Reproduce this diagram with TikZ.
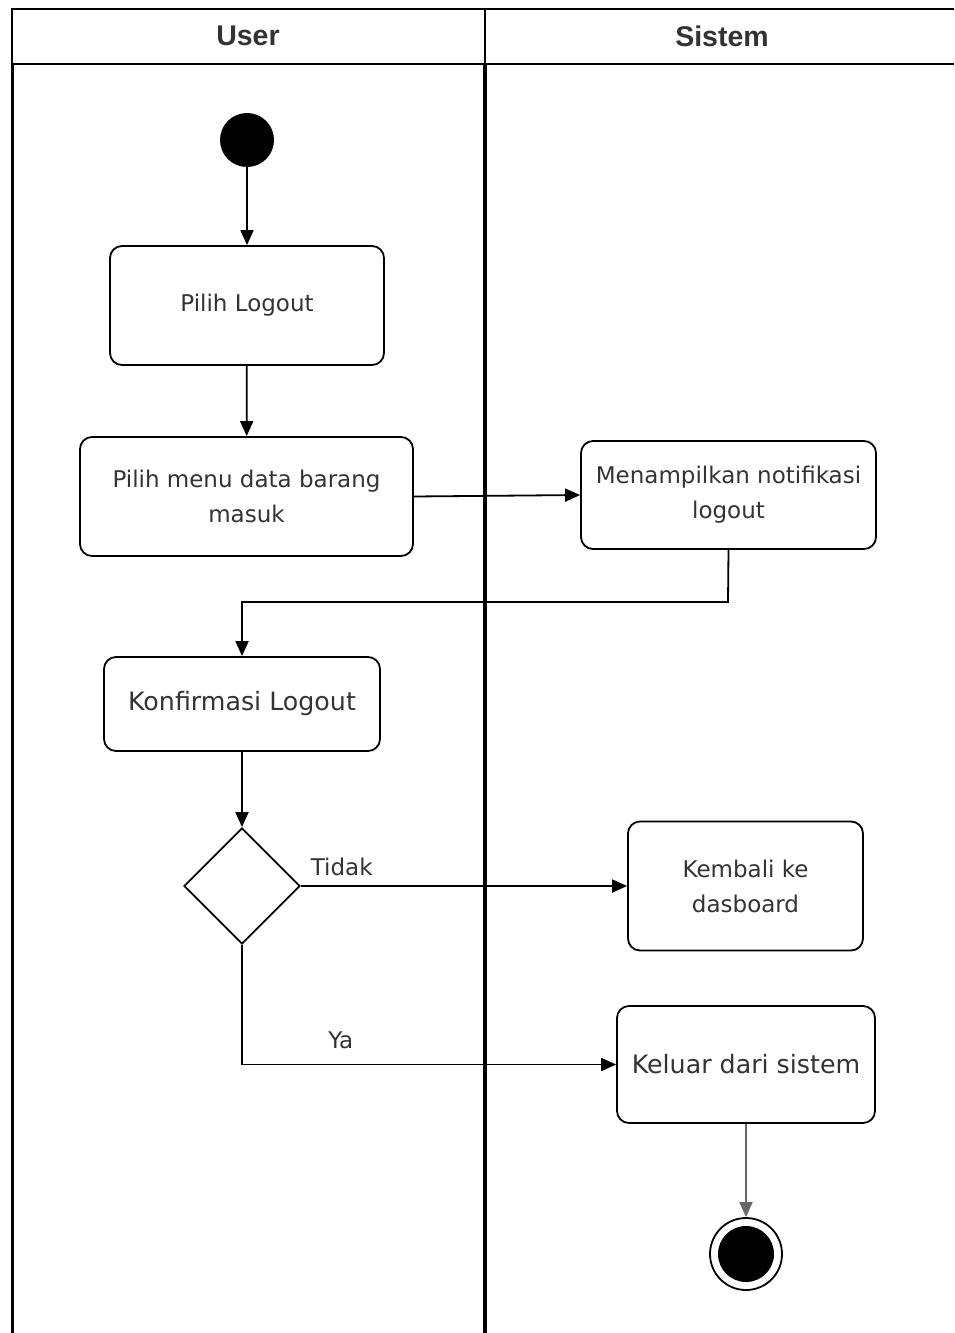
\documentclass[tikz,border=0pt]{standalone}
\usepackage{fontspec}
\setmainfont{DejaVu Sans}
\newfontfamily\headfont{Liberation Sans}
\usetikzlibrary{arrows.meta,shapes.geometric}
\begin{document}
\begin{tikzpicture}[x=1pt,y=-1pt,
  every node/.style={font=\fontsize{23}{35}\selectfont, text=black!80},
  act/.style={draw, line width=1.8pt, rounded corners=12pt, align=center, inner sep=0pt},
  big/.style={font=\fontsize{25.3}{30}\selectfont},
  head/.style={font=\headfont\bfseries\fontsize{28.5}{32}\selectfont},
  flow/.style={draw, line width=1.8pt, -{Triangle[length=15pt,width=13pt]}},
  lane/.style={draw, line width=2pt}]
\useasboundingbox (0,0) rectangle (954,1333);
% swimlane frame
\draw[lane] (954,9) -- (12,9) -- (12,1333);
\draw[lane] (12,64) -- (954,64);
\draw[lane] (485,9) -- (485,64);
\draw[line width=3.5pt] (485,64) -- (485,1333);
\draw[line width=3pt] (12,64) -- (12,1333);
\node[head] (hUser) at (248,36) {User};
\node[head] (hSys) at (722,36) {Sistem};
% start
\node[circle, fill=black, minimum size=54pt, inner sep=0pt] (start) at (247,140) {};
% activities
\node[act, minimum width=274pt, minimum height=119pt] (pl) at (247,305.5) {Pilih Logout};
\node[act, minimum width=333pt, minimum height=119pt] (pm) at (246.5,496.5) {Pilih menu data barang\\masuk};
\node[act, minimum width=295pt, minimum height=108pt] (nt) at (728.5,495) {Menampilkan notifikasi\\logout};
\node[act, big, minimum width=276pt, minimum height=94pt] (kl) at (242,704) {Konfirmasi Logout};
\node[draw, line width=1.8pt, diamond, aspect=1, minimum width=116pt, minimum height=116pt, inner sep=0pt] (dc) at (242,886) {};
\node[act, minimum width=235pt, minimum height=129pt] (kd) at (745.5,886) {Kembali ke\\dasboard};
\node[act, big, minimum width=258pt, minimum height=117pt] (ks) at (746,1064.5) {Keluar dari sistem};
% end
\node[circle, draw, line width=1.8pt, minimum size=72pt, inner sep=0pt] (endo) at (746,1254) {};
\node[circle, fill=black, minimum size=56pt, inner sep=0pt] (endi) at (746,1254) {};
% flows
\draw[flow] (start) -- (pl);
\draw[flow] (pl) -- (pm);
\draw[flow] (pm.east) -- (nt.west);
\draw[flow] (nt.south) -- (728,602) -- (242,602) -- (kl.north);
\draw[flow] (kl) -- (dc.north);
\draw[flow] (dc.east) -- node[pos=0.125, yshift=19pt] {Tidak} (kd.west);
\draw[flow] (dc.south) |- node[pos=0.632, yshift=24pt] {Ya} (ks.west);
\draw[flow, draw=black!60, fill=black] (ks.south) -- (endo.north);
\end{tikzpicture}
\end{document}
